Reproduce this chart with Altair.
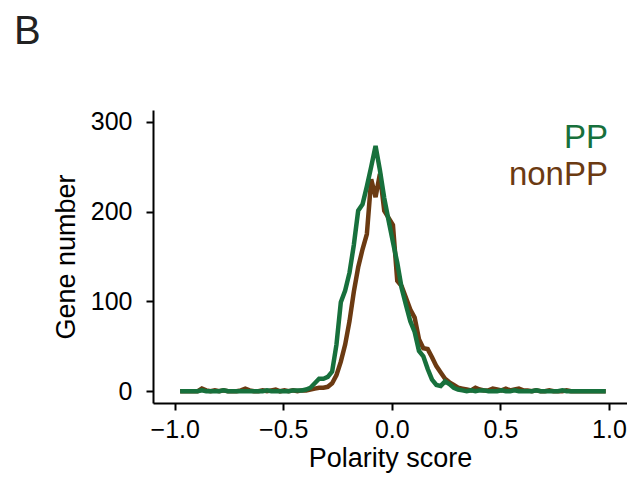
import altair as alt
import pandas as pd

# bin centres of polarity score (step 0.02)
x_vals = [round(-0.975 + 0.02 * k, 3) for k in range(99)]

pp_counts = [
    0, 0, 0, 0, 0, 1, 0, 0, 0, 0, 1, 0, 0, 0, 0, 0, 0, 0, 0, 0, 1, 0, 0, 0, 0, 0, 1, 1, 1,
    2, 4, 9, 14, 14, 16, 22, 52, 99, 112, 132, 163, 201, 208, 228, 250, 273, 246, 215, 190,
    166, 143, 115, 96, 78, 66, 45, 39, 25, 13, 7, 6, 11, 8, 4, 2, 1,
    0, 1, 0, 1, 1, 0, 0, 0, 1, 0, 0, 1, 0, 0, 0, 0, 1, 0, 0, 0, 0, 0, 1, 0, 0, 0, 0, 0, 0, 0, 0, 0, 0,
]
nonpp_counts = [
    0, 0, 0, 0, 0, 3, 1, 0, 1, 0, 1, 0, 0, 0, 1, 3, 1, 0, 0, 1, 0, 1, 2, 0, 1, 0, 1, 0, 1,
    1, 2, 3, 4, 4, 5, 9, 18, 33, 52, 78, 111, 138, 158, 175, 236, 216, 242, 201, 193,
    185, 123, 117, 104, 91, 82, 58, 48, 47, 38, 28, 21, 14, 10, 7, 4, 3,
    2, 1, 4, 2, 1, 1, 3, 2, 1, 3, 1, 2, 3, 1, 1, 0, 1, 0, 0, 1, 0, 0, 0, 1, 0, 0, 0, 0, 0, 0, 0, 0, 0,
]

series_names = ["PP", "nonPP"]
series_colors = ["#17703C", "#6B3A12"]

FONT = "Liberation Sans"

df_pp = pd.DataFrame({"score": x_vals, "count": pp_counts})
df_non = pd.DataFrame({"score": x_vals, "count": nonpp_counts})

xscale = alt.Scale(domain=[-1.1, 1.083], nice=False, zero=False)
yscale = alt.Scale(domain=[-13, 313], nice=False, zero=False)

xaxis = alt.Axis(values=[-1.0, -0.5, 0.0, 0.5, 1.0], format=".1f", title="Polarity score",
                 grid=False, labelPadding=7, titlePadding=3)
yaxis = alt.Axis(values=[0, 100, 200, 300], title="Gene number", grid=False,
                 labelPadding=14, titlePadding=10)

line_non = alt.Chart(df_non).mark_line(color=series_colors[1], strokeWidth=4.5, strokeCap="butt").encode(
    x=alt.X("score:Q", scale=xscale, axis=xaxis),
    y=alt.Y("count:Q", scale=yscale, axis=yaxis),
)
line_pp = alt.Chart(df_pp).mark_line(color=series_colors[0], strokeWidth=4.5, strokeCap="butt").encode(
    x=alt.X("score:Q", scale=xscale),
    y=alt.Y("count:Q", scale=yscale),
)

legend_pp = alt.Chart(pd.DataFrame({"t": [series_names[0]]})).mark_text(
    font=FONT, fontSize=33, align="right", baseline="alphabetic", color=series_colors[0]
).encode(text="t:N", x=alt.value(455), y=alt.value(38))
legend_non = alt.Chart(pd.DataFrame({"t": [series_names[1]]})).mark_text(
    font=FONT, fontSize=33, align="right", baseline="alphabetic", color=series_colors[1]
).encode(text="t:N", x=alt.value(455), y=alt.value(75))

panel = alt.Chart(pd.DataFrame({"t": ["B"]})).mark_text(
    font=FONT, fontSize=40, align="left", baseline="alphabetic", color="#222222"
).encode(text="t:N", x=alt.value(-139), y=alt.value(-66))

chart = alt.layer(line_non, line_pp, legend_pp, legend_non, panel).properties(
    width=474, height=293,
    autosize=alt.AutoSizeParams(type="none"),
    padding={"left": 145, "top": 102, "right": 0, "bottom": 73},
).configure_view(stroke=None).configure_axis(
    domainColor="black", domainWidth=2, tickColor="black", tickWidth=2, tickSize=7,
    labelFont=FONT, labelFontSize=25, labelColor="black",
    titleFont=FONT, titleFontSize=27, titleFontWeight="normal", titleColor="black",
)

chart.save("out.html", embed_options={"renderer": "svg", "actions": False})
